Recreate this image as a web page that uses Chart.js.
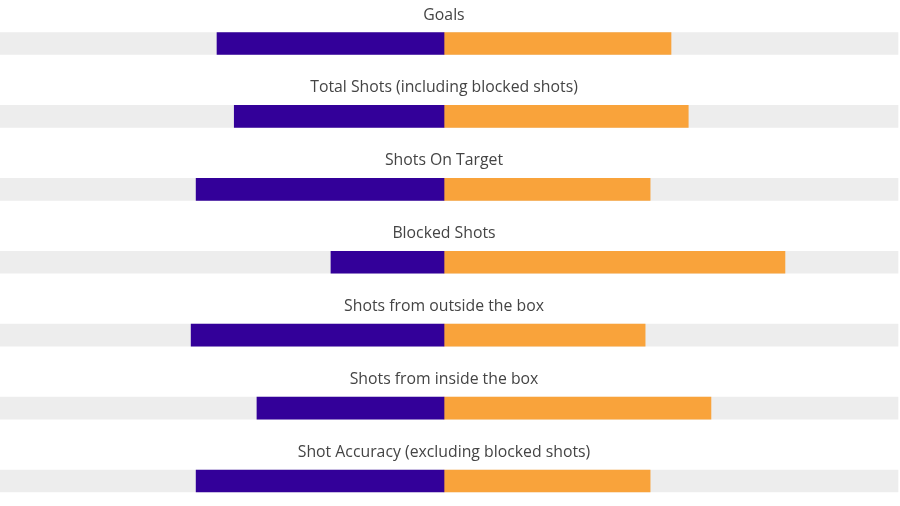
<!DOCTYPE html>
<html>
<head>
<meta charset="utf-8">
<script src="https://cdn.jsdelivr.net/npm/chart.js@4/dist/chart.umd.min.js"></script>
<style>
  html, body { margin: 0; padding: 0; background: #fff; }
  #wrap { width: 900px; height: 506px; }
</style>
</head>
<body>
<div id="wrap"><canvas id="myChart"></canvas></div>
<script>
// share of each stat, left team vs right team (percent)
var categories = [
    'Goals',
    'Total Shots (including blocked shots)',
    'Shots On Target',
    'Blocked Shots',
    'Shots from outside the box',
    'Shots from inside the box',
    'Shot Accuracy (excluding blocked shots)'
];
var homeShare = [50, 46.2, 54.6, 24.9, 55.7, 41.2, 54.6];
var awayShare = [50, 53.8, 45.4, 75.1, 44.3, 58.8, 45.4];
var trackRange = [-100, 100];

// writes each category name centred above its bar
var rowTitles = {
    id: 'rowTitles',
    afterDatasetsDraw: function (chart) {
        var ctx = chart.ctx;
        var x = chart.scales.x.getPixelForValue(0);
        ctx.save();
        ctx.font = '15.8px "Open Sans", sans-serif';
        ctx.fillStyle = '#444444';
        ctx.textAlign = 'center';
        ctx.textBaseline = 'alphabetic';
        chart.data.labels.forEach(function (label, i) {
            var y = chart.scales.y.getPixelForValue(i);
            ctx.fillText(label, x, y - 24);
        });
        ctx.restore();
    }
};

var ctx = document.getElementById('myChart').getContext('2d');
var chart = new Chart(ctx, {
    type: 'bar',
    data: {
        labels: categories,
        datasets: [{
                label: 'Home',
                data: homeShare.map(function (v) { return -v; }),
                backgroundColor: '#330099',
                grouped: false,
                clip: false,
                order: 1,
                barThickness: 22
            },
            {
                label: 'Away',
                data: awayShare,
                backgroundColor: '#f9a33b',
                grouped: false,
                clip: false,
                order: 1,
                barThickness: 22
            },
            {
                label: 'Track',
                data: categories.map(function () { return trackRange; }),
                backgroundColor: '#ededed',
                grouped: false,
                clip: false,
                order: 2,
                barThickness: 22
            }
        ]
    },
    plugins: [rowTitles],
    options: {
        indexAxis: 'y',
        responsive: true,
        maintainAspectRatio: false,
        animation: false,
        layout: {
            padding: { top: 43.5, bottom: 25, left: 0, right: 2 }
        },
        scales: {
            x: { display: false, min: -97.8, max: 100 },
            y: { display: false, offset: false }
        },
        plugins: {
            legend: { display: false },
            tooltip: { enabled: false }
        }
    }
});
</script>
</body>
</html>
